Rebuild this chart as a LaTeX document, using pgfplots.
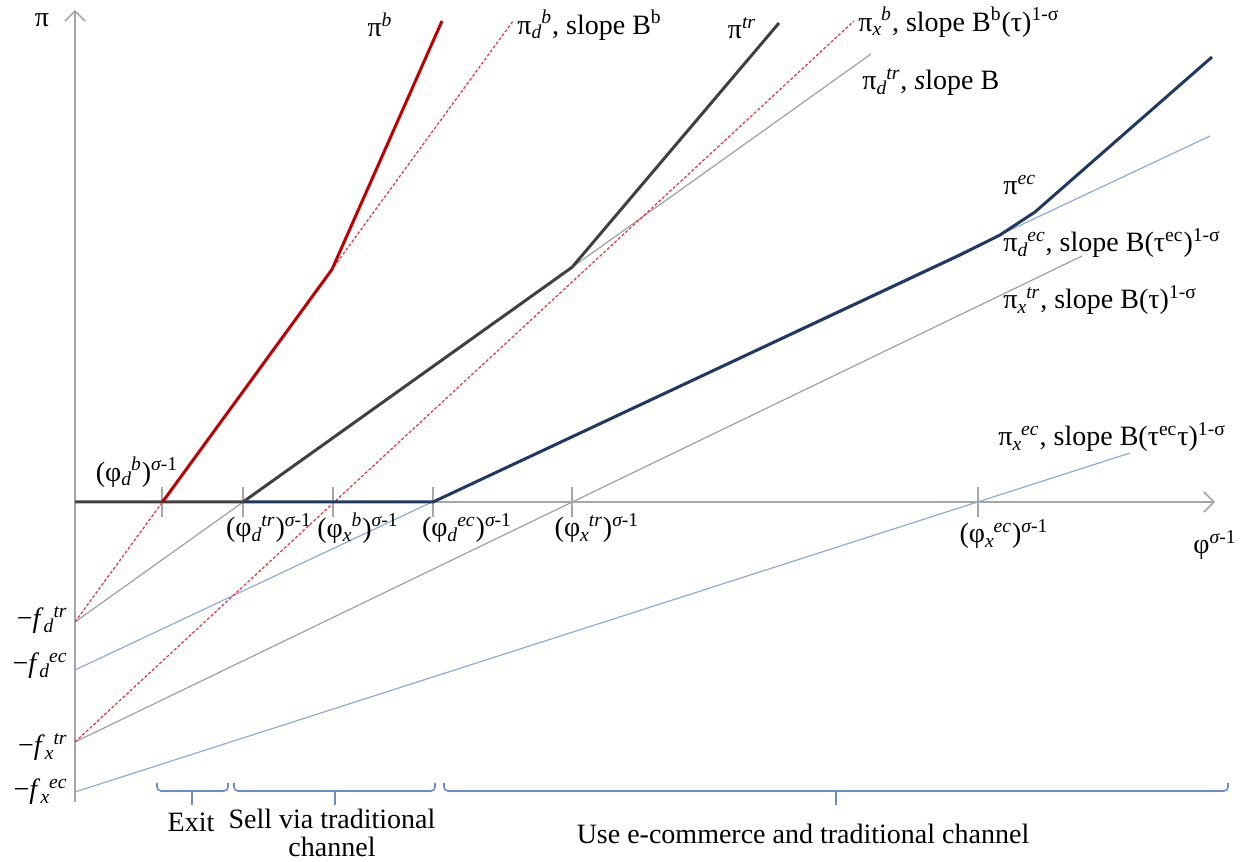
\documentclass[border=0pt]{standalone}
\usepackage{amsmath}
\usepackage{fontspec}
\setmainfont{Liberation Serif}
\usepackage{pgfplots}
\pgfplotsset{compat=1.18}
\usetikzlibrary{arrows.meta}
\definecolor{redsolid}{HTML}{C00000}
\definecolor{reddash}{HTML}{E8303A}
\definecolor{dgray}{HTML}{404040}
\definecolor{navy}{HTML}{203864}
\definecolor{lgray}{HTML}{A0A0A0}
\definecolor{lblue}{HTML}{8FAADC}
\definecolor{axgray}{HTML}{A6A6A6}
\definecolor{brace}{HTML}{6A8CCF}
\newcommand{\SD}[2]{$_{\textit{#1}}$\kern-0.5pt$^{\textit{#2}}$}
\newcommand{\SM}{$^{\textit{σ}\textup{-1}}$}
\newcommand{\OS}{$^{\textup{1-σ}}$}
\begin{document}
\fontsize{14}{15}\selectfont
\begin{tikzpicture}[every node/.style={font=\fontsize{14}{15}\selectfont,inner sep=1pt}]
\begin{axis}[width=623pt,height=430.5pt,scale only axis,
  xmin=-75,xmax=1171,ymin=-359,ymax=502,hide axis,clip=false]
\coordinate (bbll) at (axis cs:-75,-359);
\coordinate (bbur) at (axis cs:1171,502);
% axes
\draw[axgray,line width=0.75pt,-{Straight Barb[length=5pt,width=10pt]}] (axis cs:0,-300) -- (axis cs:0,492);
\draw[axgray,line width=0.75pt,-{Straight Barb[length=5pt,width=10pt]}] (axis cs:0,0) -- (axis cs:1140,0);
% thin lines
\addplot[lgray,line width=0.6pt] coordinates {(0,-120) (796,448)};
\addplot[lgray,line width=0.6pt] coordinates {(0,-240) (1007,246)};
\addplot[lblue,line width=0.6pt] coordinates {(0,-168) (1135,366)};
\addplot[lblue,line width=0.6pt] coordinates {(0,-290) (1055,49)};
\addplot[reddash,line width=0.6pt,dash pattern=on 1.5pt off 1pt] coordinates {(0,-120) (438,481)};
\addplot[reddash,line width=0.6pt,dash pattern=on 1.5pt off 1pt] coordinates {(0,-240) (779,481)};
% ticks
\foreach \t in {87,168,258,358,497,903}{
  \edef\tmp{\noexpand\draw[axgray,line width=0.75pt] (axis cs:\t,-15) -- (axis cs:\t,15);}\tmp
}
% thick lines
\addplot[navy,line width=1.5pt] coordinates {(168,0) (358,0) (885,247) (925,267) (960,290) (1137,445)};
\addplot[dgray,line width=1.5pt] coordinates {(0,0) (168,0) (497,234.7) (704,479)};
\addplot[redsolid,line width=1.5pt] coordinates {(87.5,0) (257,232.6) (367,481)};
% braces
\draw[brace,line width=0.8pt,rounded corners=2pt] (axis cs:82,-281) -- (axis cs:82,-289) -- (axis cs:153,-289) -- (axis cs:153,-281);
\draw[brace,line width=0.8pt] (axis cs:117,-289) -- (axis cs:117,-303);
\draw[brace,line width=0.8pt,rounded corners=2pt] (axis cs:159,-281) -- (axis cs:159,-289) -- (axis cs:360,-289) -- (axis cs:360,-281);
\draw[brace,line width=0.8pt] (axis cs:260,-289) -- (axis cs:260,-303);
\draw[brace,line width=0.8pt,rounded corners=2pt] (axis cs:369,-281) -- (axis cs:369,-289) -- (axis cs:1153,-289) -- (axis cs:1153,-281);
\draw[brace,line width=0.8pt] (axis cs:761,-289) -- (axis cs:761,-303);
\node at (axis cs:116,-320) {Exit};
\node[align=center,font=\fontsize{14}{14}\selectfont] at (axis cs:257,-331) {Sell via traditional\\channel};
\node at (axis cs:728,-332) {Use e-commerce and traditional channel};
% tick labels
\node at (axis cs:62,30) {(φ\SD{d}{b})\SM};
\node at (axis cs:194,-26) {(φ\SD{d}{tr})\SM};
\node at (axis cs:283,-26) {(φ\SD{x}{b})\SM};
\node at (axis cs:392,-26) {(φ\SD{d}{ec})\SM};
\node at (axis cs:522,-26) {(φ\SD{x}{tr})\SM};
\node at (axis cs:929,-32) {(φ\SD{x}{ec})\SM};
\node at (axis cs:1140,-43) {φ\SM};
\node at (axis cs:-33,482) {π};
% y labels
\node[anchor=east] at (axis cs:-5,-118) {−\textit{f}\SD{d}{tr}};
\node[anchor=east] at (axis cs:-5,-164) {−\textit{f}\SD{d}{ec}};
\node[anchor=east] at (axis cs:-5,-245) {−\textit{f}\SD{x}{tr}};
\node[anchor=east] at (axis cs:-5,-290) {−\textit{f}\SD{x}{ec}};
% line labels
\node at (axis cs:305,477) {π$^{\textit{b}}$};
\node[anchor=west] at (axis cs:440,477) {π\SD{d}{b}, slope B$^{\textup{b}}$};
\node at (axis cs:667,474) {π$^{\textit{tr}}$};
\node[anchor=west] at (axis cs:781,480) {π\SD{x}{b}, slope B$^{\textup{b}}$(τ)\OS};
\node[anchor=west] at (axis cs:785,420) {π\SD{d}{tr}, \textit{s}lope B};
\node[anchor=west] at (axis cs:926,317) {π$^{\textit{ec}}$};
\node[anchor=west] at (axis cs:926,259) {π\SD{d}{ec}, slope B(τ$^{\textup{ec}}$)\OS};
\node[anchor=west] at (axis cs:926,202) {π\SD{x}{tr}, slope B(τ)\OS};
\node[anchor=west] at (axis cs:921,65) {π\SD{x}{ec}, slope B(τ$^{\textup{ec}}$τ)\OS};
\end{axis}
\pgfresetboundingbox
\path (bbll) rectangle (bbur);
\end{tikzpicture}
\end{document}
